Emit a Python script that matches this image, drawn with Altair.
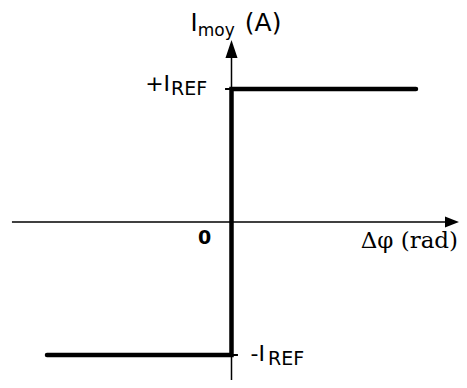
import altair as alt
import pandas as pd

# step characteristic (I_moy vs delta phi), in units of I_REF
step_x = [-1.0, 0.0, 0.0, 1.0]
step_y = [-1.0, -1.0, 1.0, 1.0]
step_order = [0, 1, 2, 3]

# axis extents (data units)
xaxis_x = [-1.19, 1.17]
yaxis_y = [-1.30, 1.24]

# arrowheads
arrow_x_pos = [1.195]
arrow_y_pos = [1.30]

# small ticks on the vertical axis at +I_REF and -I_REF
tick_x1 = [-0.035, 0.0]
tick_x2 = [0.0, 0.035]
tick_y = [1.0, -1.0]

# labels (sans)
lab_text = ["I", "moy", "(A)", "+I", "REF", "-I", "REF"]
lab_x = [-0.222, -0.183, 0.072, -0.468, -0.328, 0.103, 0.198]
lab_y = [1.437, 1.398, 1.437, 0.985, 0.955, -1.045, -1.078]
lab_size = [24, 17, 25, 22, 19, 22, 19]

zero_text = ["0"]
zero_x = [-0.182]
zero_y = [-0.165]

xlab_text = ["\u0394\u03c6 (rad)"]
xlab_x = [0.70]
xlab_y = [-0.195]

XD = [-1.2114, 1.2331]
YD = [-1.1880, 1.6090]
xs = alt.Scale(domain=XD, nice=False, zero=False)
ys = alt.Scale(domain=YD, nice=False, zero=False)
noax = None

step_df = pd.DataFrame({"x": step_x, "y": step_y, "o": step_order})
step = alt.Chart(step_df).mark_line(color="black", strokeWidth=4.5, strokeCap="round", strokeJoin="miter").encode(
    x=alt.X("x:Q", scale=xs, axis=noax), y=alt.Y("y:Q", scale=ys, axis=noax), order="o:Q")

xaxis_df = pd.DataFrame({"x": [xaxis_x[0]], "x2": [xaxis_x[1]], "y": [0.0]})
xaxis = alt.Chart(xaxis_df).mark_rule(color="black", strokeWidth=1.5).encode(
    x=alt.X("x:Q", scale=xs, axis=noax), x2="x2:Q", y=alt.Y("y:Q", scale=ys, axis=noax))

yaxis_df = pd.DataFrame({"y": [yaxis_y[0]], "y2": [yaxis_y[1]], "x": [0.0]})
yaxis = alt.Chart(yaxis_df).mark_rule(color="black", strokeWidth=1.5).encode(
    y=alt.Y("y:Q", scale=ys, axis=noax), y2="y2:Q", x=alt.X("x:Q", scale=xs, axis=noax))

ah_x = alt.Chart(pd.DataFrame({"x": arrow_x_pos, "y": [0.0]})).mark_point(
    shape="M1,0 L-1,-0.8 L-1,0.8 Z", size=196, filled=True, color="black", opacity=1, strokeWidth=0).encode(
    x=alt.X("x:Q", scale=xs, axis=noax), y=alt.Y("y:Q", scale=ys, axis=noax))
ah_y = alt.Chart(pd.DataFrame({"x": [0.0], "y": arrow_y_pos})).mark_point(
    shape="M0,-1 L-0.67,1 L0.67,1 Z", size=324, filled=True, color="black", opacity=1, strokeWidth=0).encode(
    x=alt.X("x:Q", scale=xs, axis=noax), y=alt.Y("y:Q", scale=ys, axis=noax))

ticks_df = pd.DataFrame({"x": tick_x1, "x2": tick_x2, "y": tick_y})
ticks = alt.Chart(ticks_df).mark_rule(color="black", strokeWidth=2).encode(
    x=alt.X("x:Q", scale=xs, axis=noax), x2="x2:Q", y=alt.Y("y:Q", scale=ys, axis=noax))

lab_df = pd.DataFrame({"t": lab_text, "x": lab_x, "y": lab_y, "s": lab_size})
labels = alt.Chart(lab_df).mark_text(font="DejaVu Sans", align="left", baseline="alphabetic", color="black").encode(
    x=alt.X("x:Q", scale=xs, axis=noax), y=alt.Y("y:Q", scale=ys, axis=noax),
    text="t:N", size=alt.Size("s:Q", scale=None, legend=None))

zero = alt.Chart(pd.DataFrame({"t": zero_text, "x": zero_x, "y": zero_y})).mark_text(
    font="DejaVu Sans", fontWeight="bold", fontSize=19, align="left", baseline="alphabetic", color="black").encode(
    x=alt.X("x:Q", scale=xs, axis=noax), y=alt.Y("y:Q", scale=ys, axis=noax), text="t:N")

xlab = alt.Chart(pd.DataFrame({"t": xlab_text, "x": xlab_x, "y": xlab_y})).mark_text(
    font="DejaVu Serif", fontSize=23, align="left", baseline="alphabetic", color="black").encode(
    x=alt.X("x:Q", scale=xs, axis=noax), y=alt.Y("y:Q", scale=ys, axis=noax), text="t:N")

chart = alt.layer(xaxis, yaxis, ah_x, ah_y, ticks, step, labels, zero, xlab).properties(
    width=451, height=372, padding=0, autosize=alt.AutoSizeParams(type="none"),
    background="white"
).configure_view(stroke=None)

chart.save("out.html", embed_options={"renderer": "svg", "actions": False})
